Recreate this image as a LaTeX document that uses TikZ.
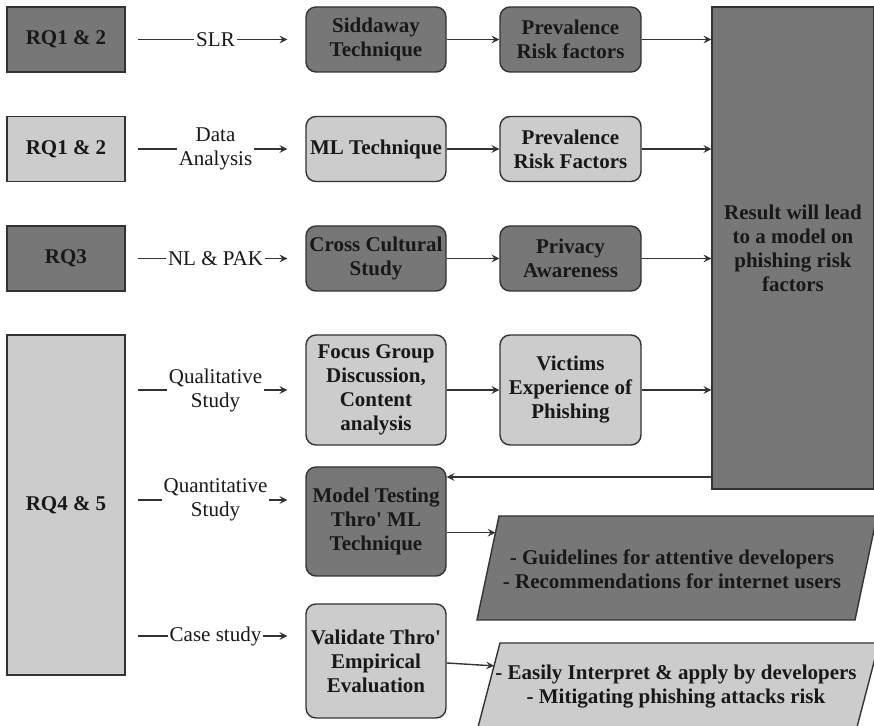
\documentclass[tikz,border=0pt]{standalone}
\usepackage{fontspec}
\setmainfont{Liberation Serif}
\newfontfamily\rqfont{Liberation Serif}
\usetikzlibrary{shapes,arrows,positioning,calc}
\definecolor{rqdark}{RGB}{119,119,119}
\definecolor{rqlight}{RGB}{204,204,204}
\definecolor{rqedge}{RGB}{51,51,51}
\definecolor{rqtext}{RGB}{24,24,24}

\begin{document}
\begin{tikzpicture}[x=0.5pt, y=-0.5pt,
		% Node styles
		rqbox/.style={draw=rqedge, fill=#1, text=rqtext, line width=0.7pt,
				minimum width=59pt, minimum height=32.5pt, align=center,
				font=\rqfont\fontsize{10.5}{12}\selectfont\bfseries},
		stepbox/.style={draw=rqedge, fill=#1, text=rqtext, line width=0.7pt, rounded corners=5pt,
				minimum width=70pt, minimum height=32.5pt, inner sep=1pt, align=center,
				font=\rqfont\fontsize{10.5}{12}\selectfont\bfseries},
		resultbox/.style={draw=rqedge, fill=rqdark, text=rqtext, line width=0.7pt,
				minimum width=81pt, minimum height=241pt, align=center,
				font=\rqfont\fontsize{10.5}{12}\selectfont\bfseries},
		outcome/.style={draw=rqedge, fill=#1, line width=0.7pt},
		outtext/.style={text=rqtext, align=center, inner sep=0pt,
				font=\rqfont\fontsize{10.5}{12}\selectfont\bfseries},
		connector/.style={->, >=stealth, draw=rqedge, line width=0.7pt},
		method/.style={fill=white, text=rqtext, inner sep=1pt, align=center,
				font=\rqfont\fontsize{10.5}{12}\selectfont}
	]

	\clip (0,0) rectangle (874,726);
	\fill[white] (0,0) rectangle (874,726);

	% Research questions
	\node[rqbox=rqdark] (rq1) at (66,39.5) {RQ1 \& 2};
	\node[rqbox=rqlight] (rq2) at (66,149) {RQ1 \& 2};
	\node[rqbox=rqdark] (rq3) at (66,258.5) {RQ3};
	\node[rqbox=rqlight, minimum height=170pt] (rq45) at (66,505) {RQ4 \& 5};

	% Methods
	\node[stepbox=rqdark] (sidd) at (376,39.5) {Siddaway\\Technique};
	\node[stepbox=rqlight] (mltech) at (376,149) {ML Technique};
	\node[stepbox=rqdark] (cross) at (376,258.5) {Cross Cultural\\Study};
	\node[stepbox=rqlight, minimum height=55pt] (focus) at (376,390) {Focus Group\\Discussion,\\Content\\analysis};
	\node[stepbox=rqdark, minimum height=54.5pt] (model) at (376,521.5) {Model Testing\\Thro' ML\\Technique};
	\node[stepbox=rqlight, minimum height=57pt] (valid) at (376,661) {Validate Thro'\\Empirical\\Evaluation};

	% Findings
	\node[stepbox=rqdark, minimum width=70.5pt] (prev1) at (570.5,39.5) {Prevalence\\Risk factors};
	\node[stepbox=rqlight, minimum width=70.5pt] (prev2) at (570.5,149) {Prevalence\\Risk Factors};
	\node[stepbox=rqdark, minimum width=70.5pt] (privacy) at (570.5,258.5) {Privacy\\Awareness};
	\node[stepbox=rqlight, minimum width=70.5pt, minimum height=55pt] (victims) at (570.5,390) {Victims\\Experience of\\Phishing};

	\node[resultbox] (result) at (793,248) {Result will lead\\to a model on\\phishing risk\\factors};

	% Outcomes
	\draw[outcome=rqdark] (499,516) coordinate (guidetl) -- (877,516) -- (855,620)
		-- (477,620) coordinate (guidebl) -- cycle;
	\node[outtext] (guidetext) at (672,569) {- Guidelines for attentive developers\\- Recommendations for internet users};
	\draw[outcome=rqlight] (500,643) coordinate (easytl) -- (879,643) -- (856,731)
		-- (477,731) coordinate (easybl) -- cycle;
	\node[outtext] (easytext) at (676,687) {- Easily Interpret \& apply by developers\\- Mitigating phishing attacks risk};

	% Levels of the connectors
	\coordinate (lvquant) at (0,500);
	\coordinate (lvcase) at (0,636);
	\coordinate (lvback) at (0,477);
	\coordinate (guidein) at ($(guidetl)!0.16!(guidebl)$);
	\coordinate (easyin) at ($(easytl)!0.26!(easybl)$);

	% Questions to methods
	\draw[connector, shorten <=6pt, shorten >=9pt] (rq1) -- node[method] {SLR} (sidd);
	\draw[connector, shorten <=6pt, shorten >=9pt] (rq2) -- node[method] {Data\\Analysis} (mltech);
	\draw[connector, shorten <=6pt, shorten >=9pt] (rq3) -- node[method] {NL \& PAK} (cross);
	\draw[connector, shorten <=6pt, shorten >=9pt] (rq45.east |- focus.west) -- node[method] {Qualitative\\Study} (focus.west);
	\draw[connector, shorten <=6pt, shorten >=9pt] (rq45.east |- lvquant) -- node[method] {Quantitative\\Study} (model.west |- lvquant);
	\draw[connector, shorten <=6pt, shorten >=9pt] (rq45.east |- lvcase) -- node[method] {Case study} (valid.west |- lvcase);

	% Methods to findings
	\draw[connector] (sidd) -- (prev1);
	\draw[connector] (mltech) -- (prev2);
	\draw[connector] (cross) -- (privacy);
	\draw[connector] (focus) -- (victims);

	% Findings to result
	\draw[connector] (prev1) -- (result.west |- prev1);
	\draw[connector] (prev2) -- (result.west |- prev2);
	\draw[connector] (privacy) -- (result.west |- privacy);
	\draw[connector] (victims) -- (result.west |- victims);

	% Result back to testing, then outcomes
	\draw[connector] (result.west |- lvback) -- (model.east |- lvback);
	\draw[connector] (model.east |- guidein) -- (guidein);
	\draw[connector] ([yshift=-1pt]valid.east) -- (easyin);

\end{tikzpicture}
\end{document}
